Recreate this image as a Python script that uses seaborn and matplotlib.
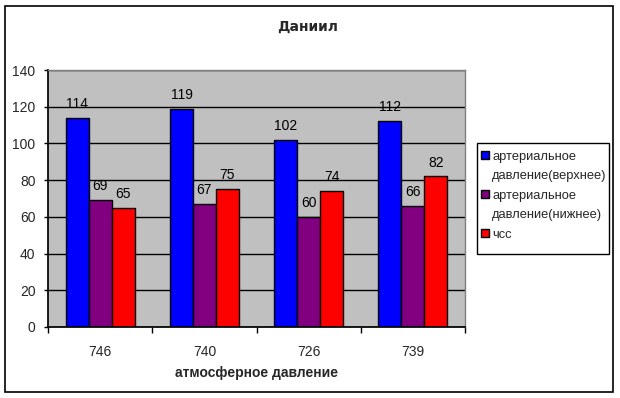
import matplotlib
matplotlib.use('Agg')
import matplotlib.pyplot as plt
import matplotlib.patches as mpatches
import seaborn as sns
import pandas as pd

# ── Data ────────────────────────────────────────────────
pressure = ['746', '740', '726', '739']
series_names = ['артериальное\nдавление(верхнее)',
                'артериальное\nдавление(нижнее)',
                'чсс']
upper_bp = [114, 119, 102, 112]
lower_bp = [69, 67, 60, 66]
pulse = [65, 75, 74, 82]

COLORS = ['#0000FF', '#800080', '#FF0000']
PLOT_BG = '#C0C0C0'
W, H = 620, 398

sns.set_theme(style='white')
plt.rcParams['font.family'] = ['Liberation Sans', 'DejaVu Sans']

df = pd.DataFrame({
    'pressure': pressure * 3,
    'value': upper_bp + lower_bp + pulse,
    'series': [series_names[0]] * 4 + [series_names[1]] * 4 + [series_names[2]] * 4,
})

fig = plt.figure(figsize=(W / 100, H / 100), dpi=100, facecolor='white')
ax = fig.add_axes([48 / W, 71 / H, 417 / W, 257 / H])
ax.set_facecolor(PLOT_BG)

sns.barplot(data=df, x='pressure', y='value', hue='series', order=pressure,
            hue_order=series_names, palette=COLORS, width=0.66,
            edgecolor='black', linewidth=1, saturation=1, ax=ax, legend=False)

for cont in ax.containers:
    ax.bar_label(cont, padding=5, fontsize=10, color='black')

ax.set_ylim(0, 140)
ax.set_xlim(-0.5, 3.5)
ax.set_yticks(range(0, 141, 20))
ax.yaxis.grid(True, color='black', linewidth=1)
ax.set_axisbelow(True)
for side in ['top', 'right']:
    ax.spines[side].set_color('#808080')
    ax.spines[side].set_linewidth(1)
ax.spines['bottom'].set_color('black')
ax.spines['left'].set_color('black')

ax.tick_params(axis='y', left=True, length=3, width=1, color='black',
               labelsize=10, pad=6)
ax.set_xticks(range(4))
ax.set_xticklabels(pressure, fontsize=10)
ax.tick_params(axis='x', bottom=False, pad=7)
ax.set_xticks([-0.5, 0.5, 1.5, 2.5, 3.5], minor=True)
ax.tick_params(axis='x', which='minor', bottom=True, length=4, width=1, color='black')

ax.set_ylabel('')
ax.set_xlabel('атмосферное давление', fontsize=10, fontweight='bold', labelpad=5)

fig.text(308 / W, 1 - 27 / H, 'Даниил', ha='center', va='center',
         fontsize=10, fontweight='bold', family=['DejaVu Sans'])

# legend box (Excel style, square corners, extra room at the bottom)
fig.patches.append(mpatches.Rectangle((477 / W, 1 - 254 / H), 132 / W, 111 / H,
                                      transform=fig.transFigure, fill=False,
                                      edgecolor='black', linewidth=1))
# one legend row per text line, the colour key sits on the first line only
handles, labels = [], []
for name, c in zip(series_names, COLORS):
    for i, line in enumerate(name.split('\n')):
        if i == 0:
            handles.append(mpatches.Patch(facecolor=c, edgecolor='black', linewidth=1))
        else:
            handles.append(mpatches.Patch(facecolor='none', edgecolor='none'))
        labels.append(line)
leg = fig.legend(handles, labels, loc='upper left',
                 bbox_to_anchor=(478 / W, 1 - 148 / H), frameon=False,
                 fontsize=9.3, handlelength=0.65, handleheight=0.65,
                 handletextpad=0.25, borderpad=0.2, borderaxespad=0,
                 labelspacing=0.58)

fig.patches.append(mpatches.Rectangle((5 / W, 6 / H), 608 / W, 386 / H,
                                      transform=fig.transFigure, fill=False,
                                      edgecolor='black', linewidth=1.2))

fig.savefig('out.png', dpi=100, facecolor='white')
